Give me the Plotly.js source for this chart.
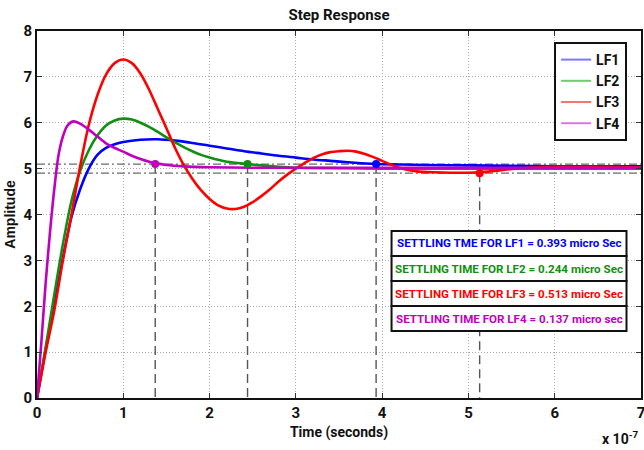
<!DOCTYPE html>
<html>
<head>
<meta charset="utf-8">
<script src="https://cdn.plot.ly/plotly-3.0.1.min.js"></script>
<style>html,body{margin:0;padding:0;background:#fff}#chart{width:644px;height:450px}</style>
</head>
<body>
<div id="chart"></div>
<script>
// ---- data (time in units of 1e-7 s) ----
const seriesNames = ["LF1", "LF2", "LF3", "LF4"];
const seriesColors = ["#0000ff", "#109010", "#ff0000", "#bf00bf"];
const legendColors = ["#7878ff", "#70cc70", "#ff7070", "#d878e0"];

const tLF1 = [0,0.1,0.2,0.3,0.4,0.5,0.6,0.7,0.8,0.9,1.0,1.2,1.4,1.6,1.8,2.0,2.2,2.4,2.6,2.8,3.0,3.2,3.4,3.6,3.93,4.2,4.5,5.0,5.5,6.0,6.5,7.0];
const yLF1 = [0,1.05,2.05,3.05,3.95,4.55,5.0,5.3,5.45,5.53,5.58,5.63,5.64,5.61,5.56,5.5,5.44,5.38,5.33,5.28,5.24,5.2,5.17,5.14,5.1,5.09,5.08,5.07,5.06,5.05,5.05,5.05];

const tLF2 = [0,0.1,0.2,0.3,0.4,0.5,0.6,0.7,0.8,0.9,1.0,1.1,1.2,1.3,1.4,1.5,1.6,1.7,1.8,1.9,2.0,2.2,2.44,2.6,2.8,3.0,3.4,4.0,5.0,6.0,7.0];
const yLF2 = [0,1.1,2.25,3.35,4.3,4.95,5.4,5.72,5.94,6.05,6.09,6.07,6.0,5.91,5.8,5.68,5.57,5.47,5.38,5.3,5.24,5.15,5.1,5.07,5.04,5.02,5.01,5.0,5.0,5.0,5.0];

const tLF3 = [0,0.1,0.2,0.3,0.4,0.5,0.6,0.7,0.8,0.9,1.0,1.1,1.2,1.3,1.4,1.5,1.6,1.7,1.8,1.9,2.0,2.1,2.2,2.3,2.4,2.5,2.6,2.7,2.8,2.9,3.0,3.1,3.2,3.3,3.4,3.5,3.6,3.7,3.8,3.9,4.0,4.1,4.2,4.3,4.4,4.6,4.8,5.0,5.13,5.3,5.5,5.7,6.0,6.5,7.0];
const yLF3 = [0,1.0,1.9,3.0,4.0,5.05,5.95,6.6,7.05,7.3,7.38,7.3,7.07,6.72,6.3,5.88,5.45,5.08,4.78,4.53,4.34,4.2,4.13,4.12,4.17,4.27,4.4,4.55,4.72,4.87,5.0,5.12,5.23,5.31,5.36,5.38,5.39,5.37,5.32,5.25,5.17,5.09,5.02,4.97,4.94,4.92,4.91,4.91,4.92,4.95,4.99,5.02,5.04,5.04,5.03];

const tLF4 = [0,0.05,0.1,0.15,0.2,0.25,0.3,0.35,0.42,0.5,0.6,0.7,0.8,0.9,1.0,1.1,1.2,1.3,1.37,1.5,1.7,2.0,2.5,3.0,4.0,5.0,6.0,7.0];
const yLF4 = [0,1.2,2.5,3.6,4.55,5.3,5.7,5.93,6.03,5.98,5.85,5.7,5.55,5.45,5.37,5.28,5.21,5.15,5.12,5.08,5.05,5.03,5.02,5.02,5.02,5.02,5.02,5.02];

const settlingTimes = [3.93, 2.44, 5.13, 1.37];
const settlingLevels = [5.1, 5.1, 4.9, 5.1];
const bandLevels = [5.1, 4.9];
const boxTexts = [
  "SETTLING TME FOR LF1 = 0.393 micro Sec",
  "SETTLING TIME FOR LF2 = 0.244 micro Sec",
  "SETTLING TIME FOR LF3 = 0.513 micro Sec",
  "SETTLING TIME FOR LF4 = 0.137 micro sec"
];
const xTicks = [0,1,2,3,4,5,6,7];
const yTicks = [0,1,2,3,4,5,6,7,8];

const FONT = 'Roboto, "Liberation Sans", sans-serif';
const tArr = [tLF1, tLF2, tLF3, tLF4];
const yArr = [yLF1, yLF2, yLF3, yLF4];

const traces = [];
// settling band lines
bandLevels.forEach(v => {
  traces.push({x: [xTicks[0], xTicks[xTicks.length-1]], y: [v, v], mode: 'lines', showlegend: false, hoverinfo: 'skip',
    line: {color: '#6a6a6a', width: 1.3, dash: '8px,3px,2px,3px'}});
});
// vertical settling drop lines
settlingTimes.forEach((ts, i) => {
  traces.push({x: [ts, ts], y: [settlingLevels[i], 0], mode: 'lines', showlegend: false, hoverinfo: 'skip',
    line: {color: '#555555', width: 1.4, dash: '9px,5px'}});
});
// response curves
seriesNames.forEach((n, i) => {
  traces.push({x: tArr[i], y: yArr[i], name: n, mode: 'lines', showlegend: false,
    line: {color: seriesColors[i], width: 2.6, shape: 'spline', smoothing: 0.8}});
});
// settling markers
seriesNames.forEach((n, i) => {
  traces.push({x: [settlingTimes[i]], y: [settlingLevels[i]], mode: 'markers', showlegend: false,
    marker: {color: seriesColors[i], size: 8}});
});
// legend entries
seriesNames.forEach((n, i) => {
  traces.push({x: [null], y: [null], name: '<b>' + n + '</b>', mode: 'lines', showlegend: true,
    line: {color: legendColors[i], width: 2}});
});

// text boxes
const bx0 = 0.587, bx1 = 0.976;
const boxTopPx = 231, boxH = 25, plotTop = 31, plotH = 367;
const toPaperY = px => 1 - (px - plotTop) / plotH;
const shapes = [];
const annotations = [];
boxTexts.forEach((txt, i) => {
  const top = boxTopPx + i * boxH, bot = top + boxH;
  shapes.push({type: 'rect', xref: 'paper', yref: 'paper', x0: bx0, x1: bx1, y0: toPaperY(bot), y1: toPaperY(top),
    line: {color: '#111', width: 2}, fillcolor: '#ffffff', layer: 'above'});
  annotations.push({xref: 'paper', yref: 'paper', x: (bx0 + bx1) / 2, y: toPaperY((top + bot) / 2), text: '<b>' + txt + '</b>',
    showarrow: false, font: {family: FONT, size: 11.6, color: seriesColors[i]}, xanchor: 'center', yanchor: 'middle'});
});
annotations.push({xref: 'paper', yref: 'paper', x: 1.0, y: -0.108, xanchor: 'right', yanchor: 'middle',
  text: '<b>x 10<sup>-7</sup></b>', showarrow: false, font: {family: FONT, size: 14, color: '#111'}});

const layout = {
  width: 644, height: 450,
  margin: {l: 37, r: 3, t: 31, b: 52},
  paper_bgcolor: '#fff', plot_bgcolor: '#fff',
  title: {text: '<b>Step Response</b>', x: 0.5, xref: 'paper', y: 0.967, yref: 'container', yanchor: 'middle',
    font: {family: FONT, size: 15, color: '#111'}},
  xaxis: {range: [0, 7], tickvals: xTicks, ticktext: xTicks.map(v => '<b>' + v + '</b>'), showgrid: true, gridcolor: '#aaaaaa',
    griddash: '1px,2px', gridwidth: 1, zeroline: false, showline: true, linecolor: '#111', linewidth: 2, mirror: 'ticks',
    ticks: 'inside', ticklen: 5, tickcolor: '#333', tickfont: {family: FONT, size: 15, color: '#111'}, ticklabeloverflow: 'allow',
    title: {text: '<b>Time (seconds)</b>', font: {family: FONT, size: 14, color: '#111'}, standoff: 6}},
  yaxis: {range: [0, 8], tickvals: yTicks, ticktext: yTicks.map(v => '<b>' + v + '</b>'), showgrid: true, gridcolor: '#aaaaaa',
    griddash: '1px,2px', gridwidth: 1, zeroline: false, showline: true, linecolor: '#111', linewidth: 2, mirror: 'ticks',
    ticks: 'inside', ticklen: 5, tickcolor: '#333', tickfont: {family: FONT, size: 15, color: '#111'}, ticklabeloverflow: 'allow',
    title: {text: '<b>Amplitude</b>', font: {family: '"Liberation Sans", Arial, sans-serif', size: 14, color: '#111'}, standoff: 4}},
  legend: {x: 0.977, y: 0.97, xanchor: 'right', yanchor: 'top', bgcolor: '#fff', bordercolor: '#111', borderwidth: 2,
    font: {family: FONT, size: 14, color: '#111'}, tracegroupgap: 0, itemwidth: 30},
  showlegend: true,
  shapes: shapes,
  annotations: annotations
};
Plotly.newPlot('chart', traces, layout, {displayModeBar: false, staticPlot: true});
</script>
</body>
</html>
